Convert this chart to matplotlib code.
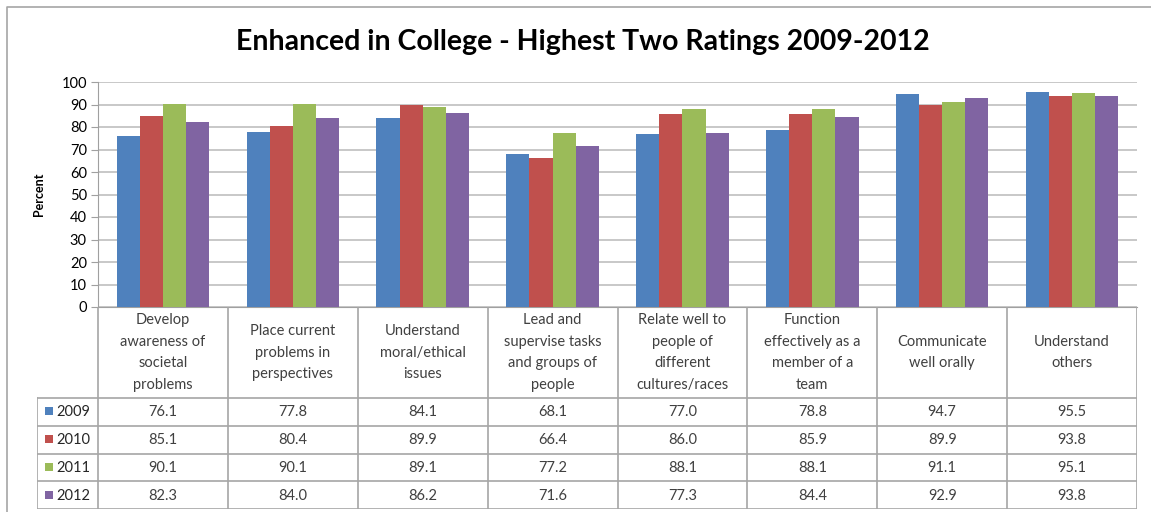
import numpy as np
import matplotlib
matplotlib.use("Agg")
import matplotlib.pyplot as plt
from matplotlib.patches import Rectangle
from matplotlib.lines import Line2D

categories = [
    "Develop\nawareness of\nsocietal\nproblems",
    "Place current\nproblems in\nperspectives",
    "Understand\nmoral/ethical\nissues",
    "Lead and\nsupervise tasks\nand groups of\npeople",
    "Relate well to\npeople of\ndifferent\ncultures/races",
    "Function\neffectively as a\nmember of a\nteam",
    "Communicate\nwell orally",
    "Understand\nothers",
]
years = ["2009", "2010", "2011", "2012"]
v2009 = [76.1, 77.8, 84.1, 68.1, 77.0, 78.8, 94.7, 95.5]
v2010 = [85.1, 80.4, 89.9, 66.4, 86.0, 85.9, 89.9, 93.8]
v2011 = [90.1, 90.1, 89.1, 77.2, 88.1, 88.1, 91.1, 95.1]
v2012 = [82.3, 84.0, 86.2, 71.6, 77.3, 84.4, 92.9, 93.8]
series = [v2009, v2010, v2011, v2012]
colors = ["#4F81BD", "#C0504D", "#9BBB59", "#8064A2"]

W, H = 1151, 512
plt.rcParams['font.family'] = ['Lato', 'DejaVu Sans']
fig = plt.figure(figsize=(W / 100, H / 100), dpi=100)

# outer chart frame (only left and top edges are visible in the crop)
fig.lines.append(Line2D([6.5 / W, 6.5 / W, 1.0], [0, 1 - 6.5 / H, 1 - 6.5 / H],
                        transform=fig.transFigure, color="#a6a6a6", lw=1.2))

fig.text(583 / W, 1 - 42 / H, "Enhanced in College - Highest Two Ratings 2009-2012",
         ha="center", va="center", fontsize=20.5, fontweight="bold", color="#000000")

left, right, top, bottom = 98, 1137, 82, 307
ax = fig.add_axes([left / W, 1 - bottom / H, (right - left) / W, (bottom - top) / H])
n = len(categories)
x = np.arange(n)
bw = 0.178
for i, vals in enumerate(series):
    ax.bar(x + (i - 1.5) * bw, vals, bw, color=colors[i], label=years[i], zorder=3)
ax.set_xlim(-0.5, n - 0.5)
ax.set_ylim(0, 100)
ax.set_yticks(range(0, 101, 10))
ax.set_xticks([])
ax.grid(axis="y", color="#bfbfbf", lw=1.2, zorder=0)
for s in ["top", "right"]:
    ax.spines[s].set_visible(False)
ax.spines["left"].set_color("#a0a0a0")
ax.spines["bottom"].set_color("#a0a0a0")
ax.tick_params(axis="y", length=5, color="#a0a0a0", labelsize=10.5, labelcolor="#000000", pad=3)
ax.set_ylabel("Percent", fontsize=9, fontweight="bold", labelpad=12)

# data table
tleft, tbottom = 37, 509
hdr_h = 398 - bottom
row_h = (tbottom - 398) / 4
colw = (right - left) / n
tax = fig.add_axes([tleft / W, 1 - tbottom / H, (right - tleft) / W, (tbottom - bottom) / H])
tax.set_xlim(-0.5 - (left - tleft) / colw, n - 0.5)
tax.set_ylim(tbottom - bottom, 0)
tax.axis("off")
lc = "#a6a6a6"
for k in range(n + 1):
    tax.plot([k - 0.5, k - 0.5], [0, tbottom - bottom], color=lc, lw=1.2)
x0 = -0.5 - (left - tleft) / colw
tax.plot([x0, x0], [hdr_h, tbottom - bottom], color=lc, lw=1.2)
for r in range(5):
    y = hdr_h + r * row_h
    tax.plot([x0, n - 0.5], [y, y], color=lc, lw=1.2)
for k, c in enumerate(categories):
    tax.text(k, hdr_h / 2, c, ha="center", va="center", fontsize=10.5,
             color="#404040", linespacing=1.68)
for r, vals in enumerate(series):
    yc = hdr_h + (r + 0.5) * row_h
    tax.add_patch(Rectangle((x0 + 0.06, yc - 4.5), 0.062, 8, color=colors[r], lw=0))
    tax.text(x0 + 0.15, yc + 0.5, years[r], ha="left", va="center", fontsize=10.5, color="#262626")
    for k, v in enumerate(vals):
        tax.text(k, yc + 0.5, f"{v:.1f}", ha="center", va="center", fontsize=10.5, color="#404040")

fig.savefig("out.png", dpi=100)
